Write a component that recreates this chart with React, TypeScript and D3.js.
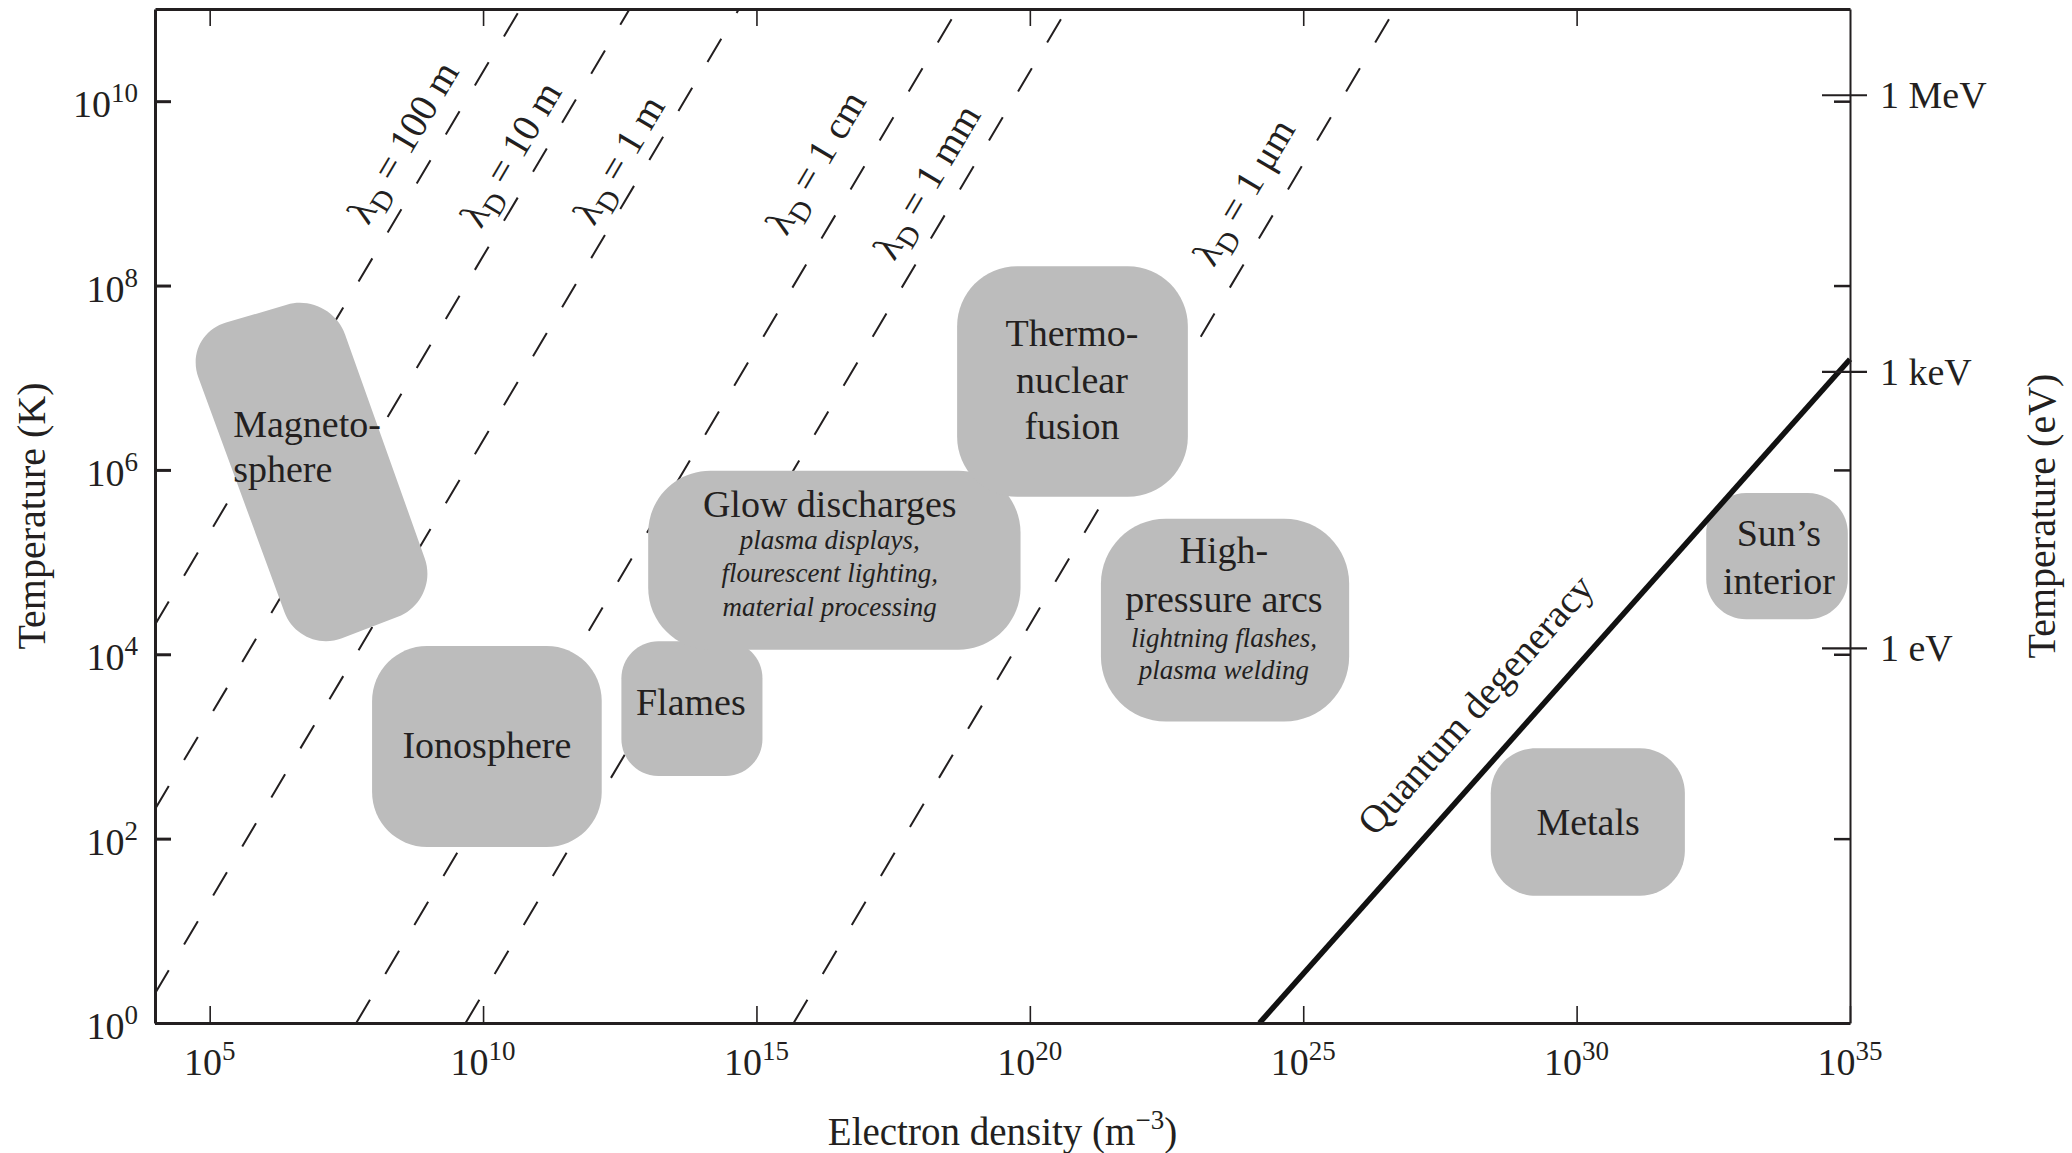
import React, { useEffect, useRef } from 'react';
import * as d3 from 'd3';

// axis ticks (electron density in m^-3, temperature in K)
const xTickValues = [1e5, 1e10, 1e15, 1e20, 1e25, 1e30, 1e35];
const xTickExponents = ['5', '10', '15', '20', '25', '30', '35'];
const topTickValues = [1e5, 1e10, 1e15, 1e20, 1e25, 1e30];
const yTickValues = [1, 1e2, 1e4, 1e6, 1e8, 1e10];
const yTickExponents = ['0', '2', '4', '6', '8', '10'];
const eVTickValues = [1.16e4, 1.16e7, 1.16e10];
const eVTickLabels = ['1 eV', '1 keV', '1 MeV'];

// Debye length lines: where each enters and leaves the frame, plus label centre
const debyeLabels = ['100 m', '10 m', '1 m', '1 cm', '1 mm', '1 μm'];
const debyeStart = [
  [1e4, 10 ** 4.32], [1e4, 10 ** 2.32], [1e4, 10 ** 0.32],
  [10 ** 7.68, 1], [10 ** 9.68, 1], [10 ** 15.68, 1],
];
const debyeEnd = [
  [10 ** 10.68, 1e11], [10 ** 12.68, 1e11], [10 ** 14.68, 1e11],
  [10 ** 18.68, 1e11], [10 ** 20.68, 1e11], [10 ** 26.68, 1e11],
];
const debyeLabelAt = [
  [10 ** 8.55, 10 ** 9.55], [10 ** 10.52, 10 ** 9.42], [10 ** 12.5, 10 ** 9.36],
  [10 ** 16.1, 10 ** 9.33], [10 ** 18.13, 10 ** 9.12], [10 ** 23.93, 10 ** 9.01],
];

// quantum degeneracy boundary
const degeneracyLine = [[10 ** 24.2, 1], [1e35, 10 ** 7.2]];
const degeneracyLabelAt = [10 ** 28.33, 10 ** 3.36];

// plasma regions
const magnetosphereCorners = [
  [10 ** 4.51, 10 ** 7.46], [10 ** 7.2, 10 ** 7.93], [10 ** 9.21, 10 ** 4.58], [10 ** 6.65, 10 ** 4.0],
];
const rectRegions = ['Ionosphere', 'Flames', 'Glow discharges', 'Thermonuclear fusion', 'High-pressure arcs', 'Metals', "Sun's interior"];
const rectNMin = [10 ** 7.97, 10 ** 12.53, 10 ** 13.02, 10 ** 18.67, 10 ** 21.3, 10 ** 28.43, 10 ** 32.37];
const rectNMax = [10 ** 12.17, 10 ** 15.11, 10 ** 19.83, 10 ** 22.89, 10 ** 25.84, 10 ** 31.98, 10 ** 34.96];
const rectTMin = [10 ** 1.91, 10 ** 2.68, 10 ** 4.05, 10 ** 5.71, 10 ** 3.27, 10 ** 1.38, 10 ** 4.38];
const rectTMax = [10 ** 4.09, 10 ** 4.14, 10 ** 5.99, 10 ** 8.21, 10 ** 5.47, 10 ** 2.98, 10 ** 5.75];

// label lines inside the regions (n, T of the baseline)
const regionLabels = [
  { text: 'Magneto-', n: 10 ** 5.43, t: 10 ** 6.36, anchor: 'start', italic: false },
  { text: 'sphere', n: 10 ** 5.43, t: 10 ** 5.87, anchor: 'start', italic: false },
  { text: 'Ionosphere', n: 10 ** 10.07, t: 10 ** 2.87, anchor: 'middle', italic: false },
  { text: 'Flames', n: 10 ** 13.8, t: 10 ** 3.34, anchor: 'middle', italic: false },
  { text: 'Glow discharges', n: 10 ** 16.34, t: 10 ** 5.49, anchor: 'middle', italic: false },
  { text: 'plasma displays,', n: 10 ** 16.34, t: 10 ** 5.14, anchor: 'middle', italic: true },
  { text: 'flourescent lighting,', n: 10 ** 16.34, t: 10 ** 4.78, anchor: 'middle', italic: true },
  { text: 'material processing', n: 10 ** 16.34, t: 10 ** 4.42, anchor: 'middle', italic: true },
  { text: 'Thermo-', n: 10 ** 20.77, t: 10 ** 7.34, anchor: 'middle', italic: false },
  { text: 'nuclear', n: 10 ** 20.77, t: 10 ** 6.83, anchor: 'middle', italic: false },
  { text: 'fusion', n: 10 ** 20.77, t: 10 ** 6.33, anchor: 'middle', italic: false },
  { text: 'High-', n: 10 ** 23.55, t: 10 ** 4.99, anchor: 'middle', italic: false },
  { text: 'pressure arcs', n: 10 ** 23.55, t: 10 ** 4.46, anchor: 'middle', italic: false },
  { text: 'lightning flashes,', n: 10 ** 23.55, t: 10 ** 4.08, anchor: 'middle', italic: true },
  { text: 'plasma welding', n: 10 ** 23.55, t: 10 ** 3.73, anchor: 'middle', italic: true },
  { text: 'Metals', n: 10 ** 30.21, t: 10 ** 2.04, anchor: 'middle', italic: false },
  { text: 'Sun\u2019s', n: 10 ** 33.7, t: 10 ** 5.17, anchor: 'middle', italic: false },
  { text: 'interior', n: 10 ** 33.7, t: 10 ** 4.65, anchor: 'middle', italic: false },
];

const W = 2072;
const H = 1153;
const FONT = '"Liberation Serif", "Times New Roman", serif';
const INK = '#231f20';
const FILL = '#bcbcbc';
const radius = [55, 37, 62, 60, 65, 45, 40];

const roundedPath = (pts, r) => {
  const p = d3.path();
  const k = 0.5523;
  const n = pts.length;
  for (let i = 0; i < n; i++) {
    const a = pts[(i - 1 + n) % n];
    const v = pts[i];
    const b = pts[(i + 1) % n];
    const la = Math.hypot(a[0] - v[0], a[1] - v[1]);
    const lb = Math.hypot(b[0] - v[0], b[1] - v[1]);
    const rr = Math.min(r, la / 2, lb / 2);
    const s = [v[0] + ((a[0] - v[0]) * rr) / la, v[1] + ((a[1] - v[1]) * rr) / la];
    const e = [v[0] + ((b[0] - v[0]) * rr) / lb, v[1] + ((b[1] - v[1]) * rr) / lb];
    if (i === 0) p.moveTo(s[0], s[1]);
    else p.lineTo(s[0], s[1]);
    p.bezierCurveTo(
      s[0] + (v[0] - s[0]) * k, s[1] + (v[1] - s[1]) * k,
      e[0] + (v[0] - e[0]) * k, e[1] + (v[1] - e[1]) * k,
      e[0], e[1]
    );
  }
  p.closePath();
  return p.toString();
};

const App = () => {
  const svgRef = useRef(null);

  useEffect(() => {
    const svg = d3.select(svgRef.current);
    svg.selectAll('*').remove();

    const left = 155, right = 1850, top = 9, bottom = 1023;
    const x = d3.scaleLog().domain([1e4, 1e35]).range([left, right]);
    const y = d3.scaleLog().domain([1, 1e11]).range([bottom, top]);

    svg.append('defs').append('clipPath').attr('id', 'plot')
      .append('rect').attr('x', left).attr('y', top)
      .attr('width', right - left).attr('height', bottom - top);

    const line = d3.line().x(d => x(d[0])).y(d => y(d[1]));

    // dashed Debye length lines
    const g = svg.append('g').attr('clip-path', 'url(#plot)');
    debyeStart.forEach((s, i) => {
      g.append('path')
        .attr('d', line([s, debyeEnd[i]]))
        .attr('fill', 'none')
        .attr('stroke', INK)
        .attr('stroke-width', 2)
        .attr('stroke-dasharray', '27,30');
    });

    // regions
    svg.append('path')
      .attr('d', roundedPath(magnetosphereCorners.map(c => [x(c[0]), y(c[1])]), 45))
      .attr('fill', FILL);
    rectRegions.forEach((name, i) => {
      const pts = [
        [x(rectNMin[i]), y(rectTMax[i])],
        [x(rectNMax[i]), y(rectTMax[i])],
        [x(rectNMax[i]), y(rectTMin[i])],
        [x(rectNMin[i]), y(rectTMin[i])],
      ];
      svg.append('path').attr('d', roundedPath(pts, radius[i])).attr('fill', FILL);
    });

    // quantum degeneracy
    svg.append('path')
      .attr('d', line(degeneracyLine))
      .attr('fill', 'none')
      .attr('stroke', '#111')
      .attr('stroke-width', 5.5);

    const slope = (a, b) =>
      (Math.atan2(y(b[1]) - y(a[1]), x(b[0]) - x(a[0])) * 180) / Math.PI;

    const qa = slope(degeneracyLine[0], degeneracyLine[1]);
    svg.append('text')
      .attr('transform', `translate(${x(degeneracyLabelAt[0])},${y(degeneracyLabelAt[1])}) rotate(${qa})`)
      .attr('text-anchor', 'middle')
      .attr('font-family', FONT)
      .attr('font-size', 39)
      .attr('fill', INK)
      .text('Quantum degeneracy');

    // Debye labels
    debyeLabels.forEach((lab, i) => {
      const ang = slope(debyeStart[i], debyeEnd[i]);
      const t = svg.append('text')
        .attr('transform', `translate(${x(debyeLabelAt[i][0])},${y(debyeLabelAt[i][1])}) rotate(${ang})`)
        .attr('text-anchor', 'middle')
        .attr('dy', 12)
        .attr('font-family', FONT)
        .attr('font-size', 39)
        .attr('fill', INK);
      t.append('tspan').text('λ');
      t.append('tspan').attr('font-size', 29).attr('dy', 9).text('D');
      t.append('tspan').attr('dy', -9).text(` = ${lab}`);
    });

    // region labels
    regionLabels.forEach(l => {
      svg.append('text')
        .attr('x', x(l.n))
        .attr('y', y(l.t))
        .attr('text-anchor', l.anchor)
        .attr('font-family', FONT)
        .attr('font-size', l.italic ? 27 : 38)
        .attr('font-style', l.italic ? 'italic' : 'normal')
        .attr('fill', INK)
        .text(l.text);
    });

    // axes
    const style = (sel, w, tw) => {
      sel.select('.domain').attr('stroke', INK).attr('stroke-width', w);
      sel.selectAll('.tick line').attr('stroke', INK).attr('stroke-width', tw);
      sel.selectAll('.tick text').remove();
    };
    svg.append('g').attr('transform', `translate(0,${bottom})`)
      .call(d3.axisBottom(x).tickValues(xTickValues).tickSize(-17).tickSizeOuter(0))
      .call(s => style(s, 3, 1.6));
    svg.append('g').attr('transform', `translate(0,${top})`)
      .call(d3.axisTop(x).tickValues(topTickValues).tickSize(-17).tickSizeOuter(0))
      .call(s => style(s, 3, 1.6));
    svg.append('g').attr('transform', `translate(${left},0)`)
      .call(d3.axisLeft(y).tickValues(yTickValues).tickSize(-16).tickSizeOuter(0))
      .call(s => style(s, 3, 3));
    svg.append('g').attr('transform', `translate(${right},0)`)
      .call(d3.axisRight(y).tickValues(yTickValues).tickSize(-16).tickSizeOuter(0))
      .call(s => style(s, 2, 2.5));

    eVTickValues.forEach((v, i) => {
      svg.append('line')
        .attr('x1', right - 28).attr('x2', right + 17)
        .attr('y1', y(v)).attr('y2', y(v))
        .attr('stroke', INK).attr('stroke-width', 2.2);
      svg.append('text')
        .attr('x', right + 30).attr('y', y(v) + 13)
        .attr('font-family', FONT).attr('font-size', 38).attr('fill', INK)
        .text(eVTickLabels[i]);
    });

    const power = (sel, exp) => {
      sel.append('tspan').text('10');
      sel.append('tspan').attr('font-size', 27).attr('dy', -15).text(exp);
    };
    xTickValues.forEach((v, i) => {
      const t = svg.append('text')
        .attr('x', x(v)).attr('y', 1075)
        .attr('text-anchor', 'middle')
        .attr('font-family', FONT).attr('font-size', 38).attr('fill', INK);
      power(t, xTickExponents[i]);
    });
    yTickValues.forEach((v, i) => {
      const t = svg.append('text')
        .attr('x', 138).attr('y', y(v) + 16)
        .attr('text-anchor', 'end')
        .attr('font-family', FONT).attr('font-size', 38).attr('fill', INK);
      power(t, yTickExponents[i]);
    });

    // axis titles
    svg.append('text')
      .attr('transform', `translate(45,${(top + bottom) / 2}) rotate(-90)`)
      .attr('text-anchor', 'middle')
      .attr('font-family', FONT).attr('font-size', 40).attr('fill', INK)
      .text('Temperature (K)');
    svg.append('text')
      .attr('transform', `translate(2055,${(top + bottom) / 2}) rotate(-90)`)
      .attr('text-anchor', 'middle')
      .attr('font-family', FONT).attr('font-size', 40).attr('fill', INK)
      .text('Temperature (eV)');
    const xt = svg.append('text')
      .attr('x', (left + right) / 2).attr('y', 1145)
      .attr('text-anchor', 'middle')
      .attr('font-family', FONT).attr('font-size', 39).attr('fill', INK);
    xt.append('tspan').text('Electron density (m');
    xt.append('tspan').attr('font-size', 27).attr('dy', -16).text('\u22123');
    xt.append('tspan').attr('dy', 16).text(')');
  }, []);

  return (
    <svg
      ref={svgRef}
      width={W}
      height={H}
      style={{ position: 'absolute', left: 0, top: 0, background: '#fff' }}
    />
  );
};

export default App;
